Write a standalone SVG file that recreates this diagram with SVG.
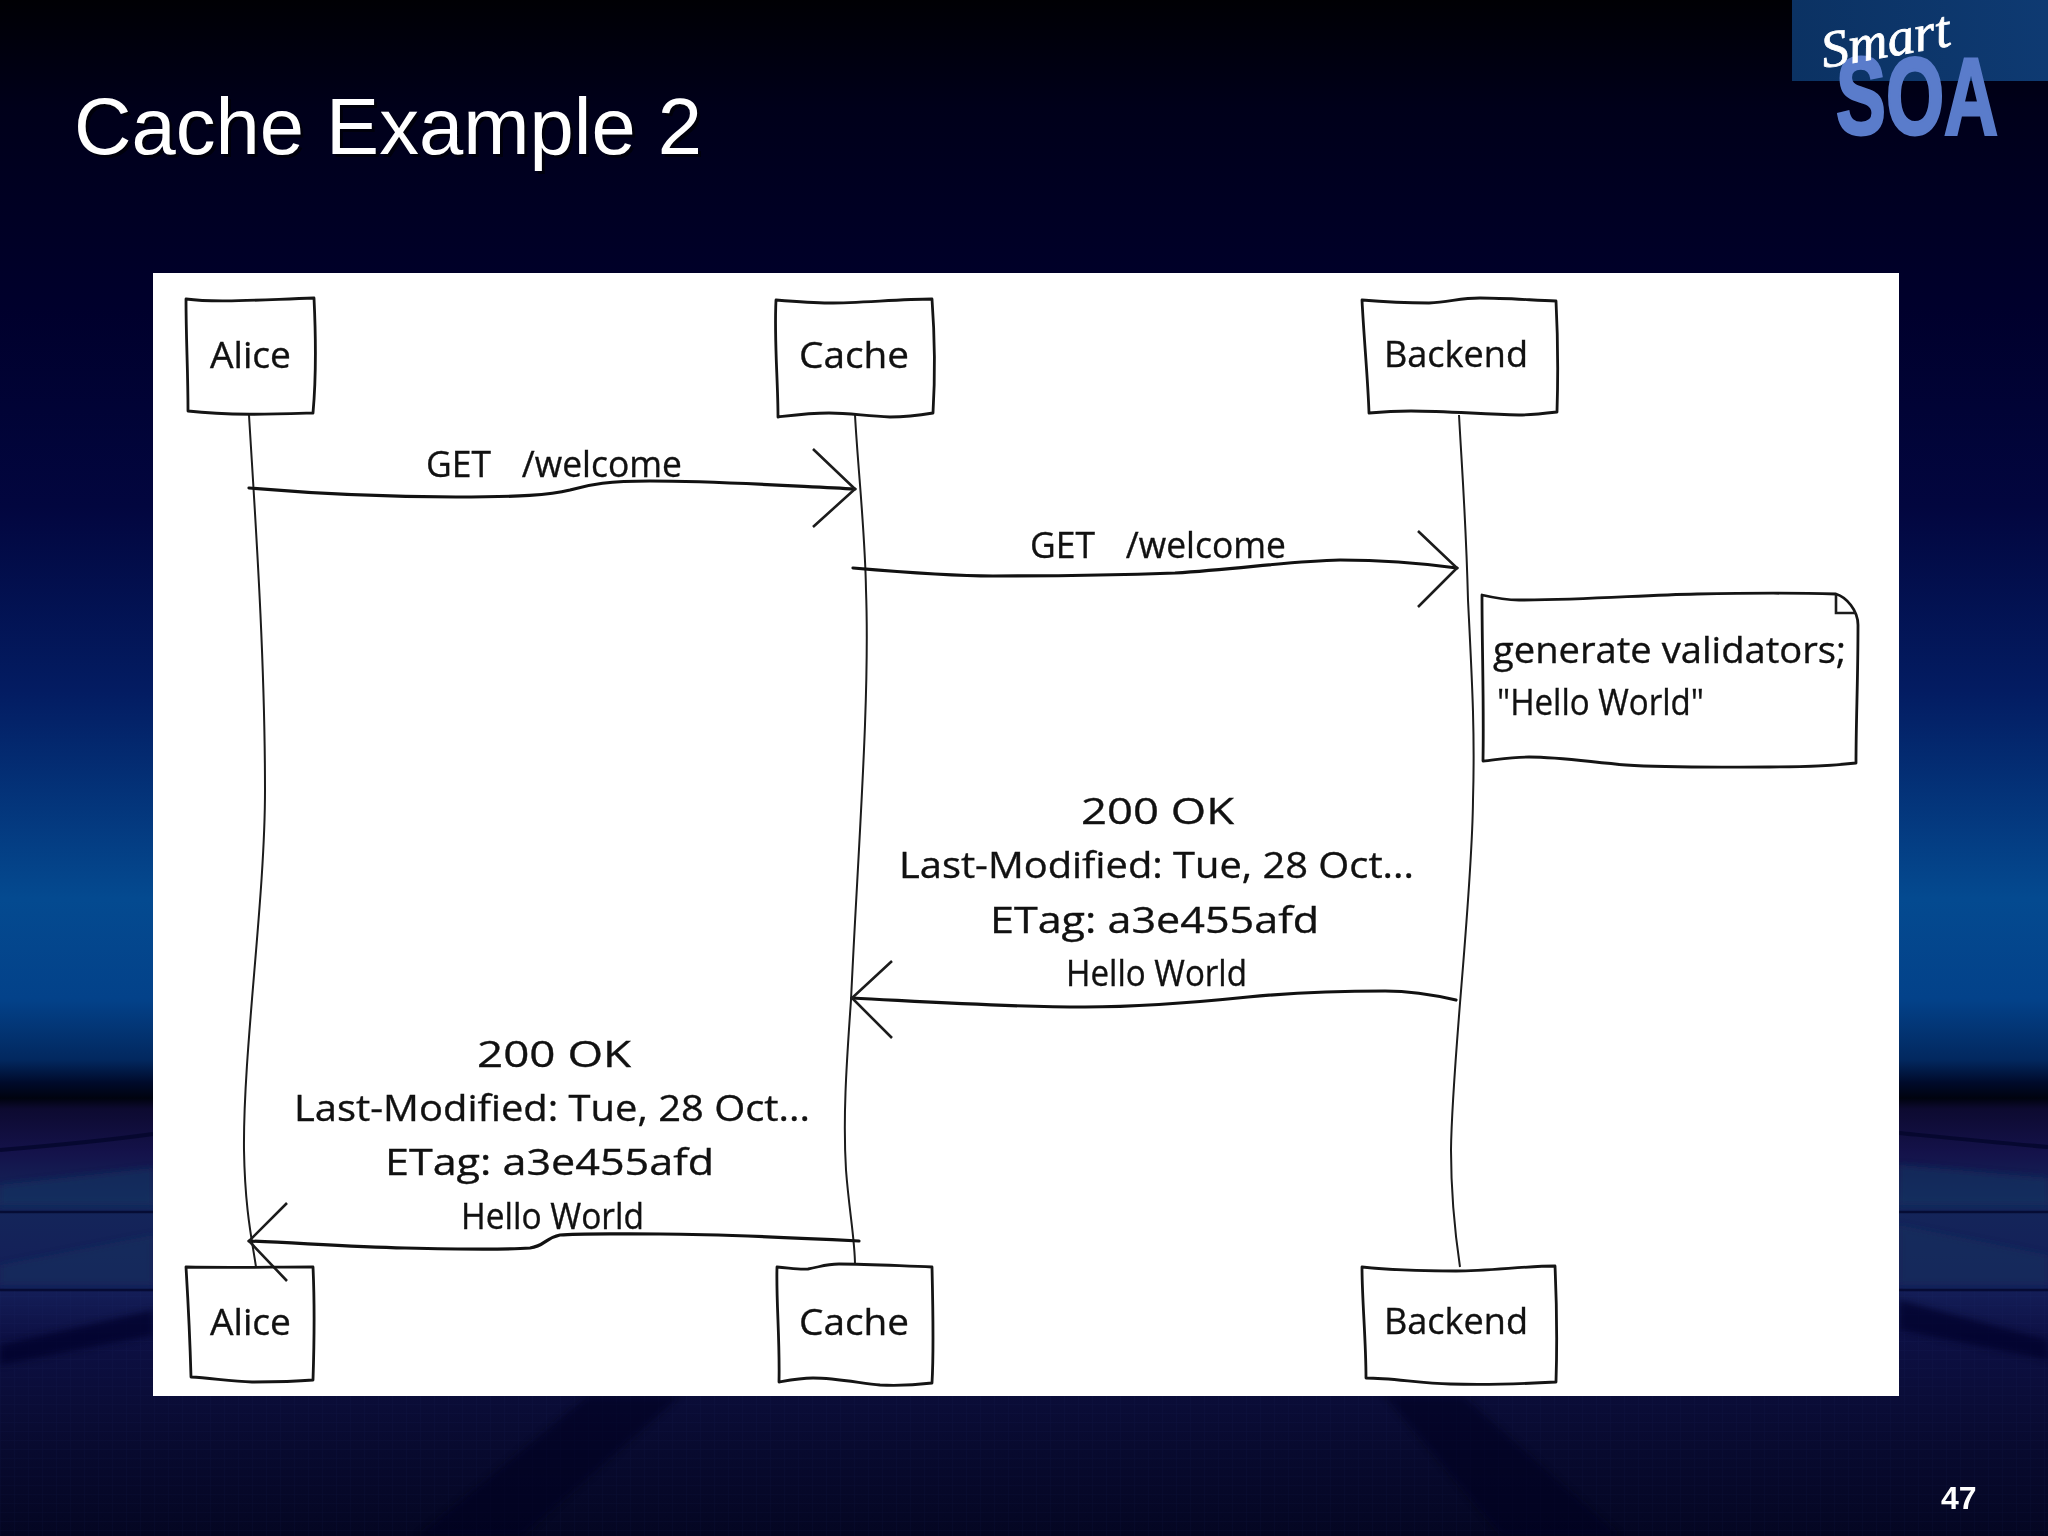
<svg xmlns="http://www.w3.org/2000/svg" width="2048" height="1536" viewBox="0 0 2048 1536">
<defs>
<linearGradient id="bg" x1="0" y1="0" x2="0" y2="1">
<stop offset="0" stop-color="#000004"/>
<stop offset="0.07" stop-color="#00001a"/>
<stop offset="0.2" stop-color="#00002c"/>
<stop offset="0.33" stop-color="#02063f"/>
<stop offset="0.45" stop-color="#031c62"/>
<stop offset="0.585" stop-color="#044a90"/>
<stop offset="0.65" stop-color="#03428a"/>
<stop offset="0.69" stop-color="#02285f"/>
<stop offset="0.705" stop-color="#000a2a"/>
<stop offset="0.715" stop-color="#00030f"/>
<stop offset="0.722" stop-color="#0d0a30"/>
<stop offset="0.75" stop-color="#14124a"/>
<stop offset="0.78" stop-color="#14265a"/>
<stop offset="0.84" stop-color="#141e58"/>
<stop offset="0.87" stop-color="#0d1044"/>
<stop offset="0.93" stop-color="#090b32"/>
<stop offset="1" stop-color="#040622"/>
</linearGradient>
<linearGradient id="logoBand" x1="0" y1="0" x2="1" y2="0">
<stop offset="0" stop-color="#0b3263"/>
<stop offset="1" stop-color="#0e3a72"/>
</linearGradient>
<filter id="soft" x="-10%" y="-30%" width="120%" height="160%"><feGaussianBlur stdDeviation="3"/></filter>
<pattern id="grid" width="14" height="9" patternUnits="userSpaceOnUse"><path d="M0,0 H14 M0,0 V9" fill="none" stroke="#2a3a80" stroke-width="1"/></pattern>
</defs>
<style>
.hand{font-family:"Open Sans","Liberation Sans",sans-serif;font-size:36px;fill:#111;stroke:#111;stroke-width:.35}
.wide{word-spacing:22px}
.box{fill:none;stroke:#151515;stroke-width:2.8;stroke-linejoin:round}
.life{fill:none;stroke:#1c1c1c;stroke-width:2}
.shaft{fill:none;stroke:#111;stroke-width:3.2;stroke-linecap:round}
.head{fill:none;stroke:#1c1c1c;stroke-width:2.6}
.band{fill:none;stroke:#03062a;stroke-opacity:.75}
</style>
<g id="background">
<rect width="2048" height="1536" fill="url(#bg)"/>
<rect y="1290" width="2048" height="246" fill="url(#grid)" opacity=".12"/>
<g filter="url(#soft)">
<path d="M0,1185 L153,1168 V1205 H0Z M1899,1165 L2048,1178 V1205 H1899Z" fill="#17335f" opacity=".6"/>
<path d="M0,1265 L153,1235 V1285 H0Z M1899,1225 L2048,1255 V1285 H1899Z" fill="#17335f" opacity=".45"/>
<path d="M0,1345 L153,1310 V1335 L0,1365Z M1899,1300 L2048,1340 V1360 L1899,1330Z" fill="#05062a" opacity=".7"/>
<path d="M588,1396 H680 L522,1536 H418Z M1385,1396 H1463 L1620,1536 H1502Z" fill="#03051f" opacity=".55"/>
</g>
<path class="band" stroke-width="4" d="M0,1150 C60,1145 110,1140 153,1134 M1899,1133 C1950,1138 2000,1143 2048,1147"/>
<path class="band" stroke-width="2.5" stroke-opacity=".5" d="M0,1212 H153 M1899,1212 H2048 M0,1290 H153 M1899,1290 H2048"/>
</g>
<g id="logo">
<rect x="1792" y="0" width="256" height="81" fill="url(#logoBand)"/>
<text transform="translate(1836,134) scale(.68,1)" font-family="'Liberation Sans',Arial,sans-serif" font-weight="700" font-size="110" fill="#5a7ccb" stroke="#5a7ccb" stroke-width="3">SOA</text>
<text transform="translate(1824,68) rotate(-10) scale(1.05,1)" font-family="'Liberation Serif',serif" font-style="italic" font-size="52" fill="#fff" stroke="#fff" stroke-width=".8">Smart</text>
</g>
<g id="title">
<text x="74" y="154" font-family="'Liberation Sans',Arial,sans-serif" font-size="79" fill="#000" opacity=".6" textLength="628" lengthAdjust="spacingAndGlyphs" transform="translate(3,3)">Cache Example 2</text>
<text x="74" y="154" font-family="'Liberation Sans',Arial,sans-serif" font-size="79" fill="#fff" textLength="628" lengthAdjust="spacingAndGlyphs">Cache Example 2</text>
</g>
<rect id="panel" x="153" y="273" width="1746" height="1123" fill="#fff"/>
<g id="connectors">
<path id="life-alice" class="life" d="M249,415 C254,500 265,650 265,790 C265,900 243,1050 244,1150 C245,1210 252,1240 256,1267"/>
<path id="life-cache" class="life" d="M855,415 C858,470 865,530 866,590 C870,700 858,850 851,1000 C846,1070 843,1120 846,1170 C849,1210 855,1240 855,1265"/>
<path id="life-backend" class="life" d="M1459,415 C1462,470 1466,520 1468,600 C1472,680 1475,730 1473,800 C1472,900 1452,1060 1451,1150 C1451,1200 1456,1240 1460,1267"/>
<g id="msg1"><path class="shaft" d="M249,488 C330,495 400,497 456,497 C520,497 550,495 570,490 C590,484 610,481 650,481 C720,481 790,486 855,489"/><path class="head" d="M813,449 L855,489 L813,527"/></g>
<g id="msg2"><path class="shaft" d="M853,568 C900,572 950,576 993,576 C1060,576 1120,575 1175,573 C1240,569 1290,561 1340,560 C1385,560 1420,563 1457,568"/><path class="head" d="M1418,531 L1457,568 L1418,607"/></g>
<g id="msg3"><path class="shaft" d="M1456,1000 C1430,994 1410,991 1385,991 C1330,991 1290,993 1248,997 C1190,1003 1140,1007 1085,1007 C1000,1007 930,1002 852,998"/><path class="head" d="M892,961 L852,998 L892,1038"/></g>
<g id="msg4"><path class="shaft" d="M859,1241 C780,1237 720,1234 660,1234 C620,1234 580,1233 560,1235 C545,1238 545,1246 530,1248 C500,1250 450,1249 405,1248 C350,1247 300,1243 249,1241"/><path class="head" d="M287,1203 L249,1241 L287,1281"/></g>
</g>
<g id="alice-top"><path class="box" d="M186,299 C215,303 255,300 314,298 C316,340 316,380 313,413 C280,414 230,416 188,411 C188,370 186,340 186,299Z"/><text class="hand" x="210" y="368" textLength="81" lengthAdjust="spacingAndGlyphs">Alice</text></g>
<g id="cache-top"><path class="box" d="M776,300 C800,302 815,303 829,303 C860,303 900,299 932,299 C935,340 935,380 933,413 C915,416 905,417 890,417 C865,416 850,413 829,413 C810,413 795,415 778,417 C778,380 774,340 776,300Z"/><text class="hand" x="799" y="368" textLength="110" lengthAdjust="spacingAndGlyphs">Cache</text></g>
<g id="backend-top"><path class="box" d="M1362,300 C1385,302 1410,303 1429,303 C1450,302 1460,298 1480,298 C1505,298 1530,300 1556,301 C1558,340 1558,380 1557,412 C1540,414 1530,415 1519,415 C1480,414 1445,411 1411,411 C1395,411 1380,412 1369,413 C1368,380 1364,340 1362,300Z"/><text class="hand" x="1384" y="367" textLength="144" lengthAdjust="spacingAndGlyphs">Backend</text></g>
<g id="note"><path class="box" d="M1482,595 C1495,598 1505,600 1519,600 C1590,600 1640,595 1697,594 C1750,593 1800,593 1836,594 C1846,597 1858,610 1858,625 C1858,680 1856,720 1856,763 C1830,766 1800,767 1769,767 C1720,767 1670,768 1626,765 C1590,762 1560,757 1529,757 C1510,757 1495,760 1483,761 C1484,700 1482,650 1482,595Z"/><path class="head" d="M1836,594 V613 H1856"/><text class="hand" x="1493" y="663" textLength="353" lengthAdjust="spacingAndGlyphs">generate validators;</text><text class="hand" x="1497" y="715" textLength="207" lengthAdjust="spacingAndGlyphs">"Hello World"</text></g>
<g id="labels">
<text class="hand wide" x="426" y="477" textLength="256" lengthAdjust="spacingAndGlyphs">GET /welcome</text>
<text class="hand wide" x="1030" y="558" textLength="256" lengthAdjust="spacingAndGlyphs">GET /welcome</text>
<text class="hand" x="1081" y="824" textLength="153" lengthAdjust="spacingAndGlyphs">200 OK</text>
<text class="hand" x="899" y="878" textLength="515" lengthAdjust="spacingAndGlyphs">Last-Modified: Tue, 28 Oct...</text>
<text class="hand" x="990" y="933" textLength="329" lengthAdjust="spacingAndGlyphs">ETag: a3e455afd</text>
<text class="hand" x="1066" y="986" textLength="181" lengthAdjust="spacingAndGlyphs">Hello World</text>
<text class="hand" x="477" y="1067" textLength="154" lengthAdjust="spacingAndGlyphs">200 OK</text>
<text class="hand" x="294" y="1121" textLength="516" lengthAdjust="spacingAndGlyphs">Last-Modified: Tue, 28 Oct...</text>
<text class="hand" x="385" y="1175" textLength="329" lengthAdjust="spacingAndGlyphs">ETag: a3e455afd</text>
<text class="hand" x="461" y="1229" textLength="183" lengthAdjust="spacingAndGlyphs">Hello World</text>
</g>
<g id="alice-bottom"><path class="box" d="M186,1267 C230,1268 270,1267 313,1267 C315,1310 314,1350 313,1380 C290,1382 270,1382 252,1382 C230,1381 210,1378 191,1377 C190,1340 188,1300 186,1267Z"/><text class="hand" x="210" y="1335" textLength="81" lengthAdjust="spacingAndGlyphs">Alice</text></g>
<g id="cache-bottom"><path class="box" d="M777,1267 C790,1268 800,1270 808,1269 C820,1267 825,1264 839,1264 C870,1264 900,1266 932,1267 C933,1310 934,1350 932,1383 C915,1385 900,1386 880,1385 C860,1383 835,1378 813,1378 C800,1378 790,1380 779,1382 C780,1340 776,1300 777,1267Z"/><text class="hand" x="799" y="1335" textLength="110" lengthAdjust="spacingAndGlyphs">Cache</text></g>
<g id="backend-bottom"><path class="box" d="M1362,1267 C1390,1270 1425,1271 1456,1271 C1490,1271 1525,1266 1555,1266 C1557,1310 1557,1350 1556,1382 C1520,1384 1480,1385 1450,1384 C1420,1383 1390,1378 1366,1378 C1366,1340 1362,1300 1362,1267Z"/><text class="hand" x="1384" y="1334" textLength="144" lengthAdjust="spacingAndGlyphs">Backend</text></g>
<text id="page" x="1941" y="1509" font-family="'Liberation Sans',Arial,sans-serif" font-weight="700" font-size="32" fill="#fff">47</text>
</svg>
